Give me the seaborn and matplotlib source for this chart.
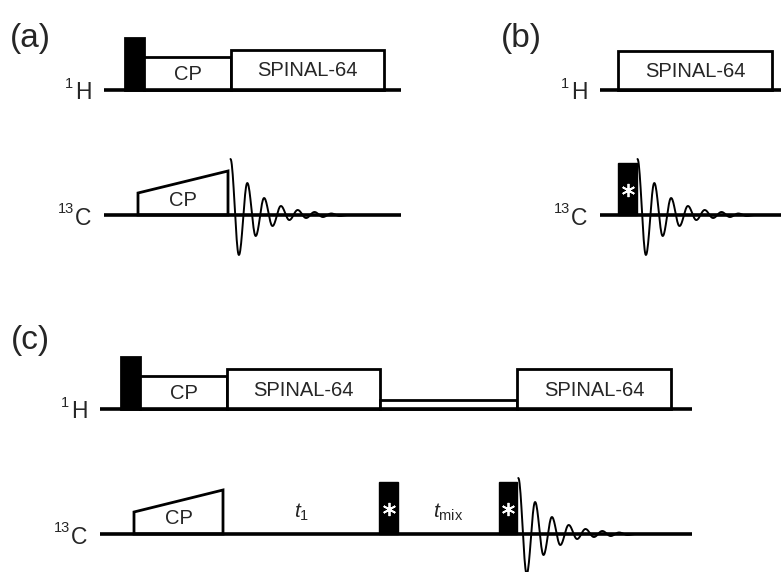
import numpy as np
import matplotlib
matplotlib.use("Agg")
import matplotlib.pyplot as plt
from matplotlib.patches import Rectangle, Polygon
import seaborn as sns

sns.set_theme(style="white")
plt.rcParams['font.family'] = ['Liberation Sans', 'DejaVu Sans']
plt.rcParams['mathtext.fontset'] = 'custom'
plt.rcParams['mathtext.rm'] = 'Liberation Sans'
plt.rcParams['mathtext.it'] = 'Liberation Sans:italic'

# channel baselines (y) and their x extent, per panel
PANELS = ['(a)', '(b)', '(c)']
H_LINE = [89.5, 89.5, 408.7]
C_LINE = [215, 215, 534]
LINE_X0 = [104, 600, 100]
LINE_X1 = [401, 781, 692]

# 1H blocks: start, end, height, kind, label
A_H = [(125, 144, 52, 'pulse', ''), (144, 231, 33, 'box', 'CP'), (231, 384, 40, 'box', 'SPINAL-64')]
B_H = [(618, 772, 39, 'box', 'SPINAL-64')]
C_H = [(121, 140, 52, 'pulse', ''), (140, 227, 33, 'box', 'CP'), (227, 380, 40, 'box', 'SPINAL-64'),
       (380, 517, 9, 'box', ''), (517, 671, 40, 'box', 'SPINAL-64')]

# 13C: CP ramps (start, end, left height, right height) and star pulses (start, end, height)
A_RAMP = [(138, 228, 22, 44)]
C_RAMP = [(134, 223, 22, 44)]
B_PULSES = [(618, 637, 52)]
C_PULSES = [(379, 398, 52), (499, 517, 52)]

# FID extrema amplitudes (px above baseline), one every half period
FID_AMPS = [56, -40, 32, -21, 17, -11, 9, -5, 5, -3, 3, -2, 1.5, -1, 0]
FID_HALF = 8.4
FID_START = [230.5, 637.5, 518.3]

# delay labels in (c)
DELAYS = [r'$t_{\mathrm{1}}$', r'$t_{\mathrm{mix}}$']
DELAY_X = [302, 448]

fig = plt.figure(figsize=(7.81, 5.72), dpi=100)
ax = fig.add_axes([0, 0, 1, 1])

BOX_LW = 2.0
LINE_LW = 2.6


def draw_h(blocks, y0):
    for x0, x1, h, kind, lab in blocks:
        if kind == 'pulse':
            ax.add_patch(Rectangle((x0, y0 - h), x1 - x0, h, facecolor='black',
                                   edgecolor='black', lw=BOX_LW, zorder=2))
        else:
            ax.add_patch(Rectangle((x0, y0 - h), x1 - x0, h, facecolor='white',
                                   edgecolor='black', lw=BOX_LW, zorder=2))
        if lab:
            ax.text((x0 + x1) / 2, y0 - h / 2 + 7, lab, ha='center', va='baseline',
                    fontsize=14.5, zorder=4)


def draw_ramp(ramps, y0):
    for x0, x1, h0, h1 in ramps:
        ax.add_patch(Polygon([(x0, y0), (x0, y0 - h0), (x1, y0 - h1), (x1, y0)],
                             closed=True, facecolor='white', edgecolor='black',
                             lw=BOX_LW, zorder=2))
        ax.text((x0 + x1) / 2, y0 - 9.5, 'CP', ha='center', va='baseline',
                fontsize=14.5, zorder=4)


def draw_pulses(pulses, y0):
    for x0, x1, h in pulses:
        ax.add_patch(Rectangle((x0, y0 - h), x1 - x0, h, facecolor='black',
                               edgecolor='black', lw=1.0, zorder=2))
        ax.plot((x0 + x1) / 2, y0 - 25, marker=(6, 2, 0), ms=9.5, mew=1.3,
                color='white', zorder=5)


def draw_fid(x_start, y0):
    xs, ys = [], []
    for i in range(len(FID_AMPS) - 1):
        a, b = FID_AMPS[i], FID_AMPS[i + 1]
        t = np.linspace(0, 1, 20)
        xs.extend(x_start + (i + t) * FID_HALF)
        ys.extend(y0 - ((a + b) / 2 + (a - b) / 2 * np.cos(np.pi * t)))
    sns.lineplot(x=xs, y=ys, estimator=None, sort=False, color='black',
                 linewidth=1.4, ax=ax, zorder=6)


H_BLOCKS = [A_H, B_H, C_H]
for i, name in enumerate(PANELS):
    draw_h(H_BLOCKS[i], H_LINE[i])
    for y0 in (H_LINE[i], C_LINE[i]):
        ax.plot([LINE_X0[i], LINE_X1[i]], [y0, y0], color='black', lw=LINE_LW,
                solid_capstyle='butt', zorder=3)
    # channel labels
    lx = LINE_X0[i] - 29
    ax.text(lx, H_LINE[i] + 9.5, 'H', ha='left', va='baseline', fontsize=16.5)
    ax.text(lx - 2, H_LINE[i] - 2, '1', ha='right', va='baseline', fontsize=10.5)
    ax.text(lx, C_LINE[i] + 10, 'C', ha='left', va='baseline', fontsize=16.5)
    ax.text(lx - 1, C_LINE[i] - 2, '13', ha='right', va='baseline', fontsize=10.5)
    draw_fid(FID_START[i], C_LINE[i])

draw_ramp(A_RAMP, C_LINE[0])
draw_ramp(C_RAMP, C_LINE[2])
draw_pulses(B_PULSES, C_LINE[1])
draw_pulses(C_PULSES, C_LINE[2])

for lab, x in zip(DELAYS, DELAY_X):
    ax.text(x, C_LINE[2] - 16, lab, ha='center', va='baseline', fontsize=15)

# panel letters
ax.text(10, 47, PANELS[0], ha='left', va='baseline', fontsize=24)
ax.text(501, 47, PANELS[1], ha='left', va='baseline', fontsize=24)
ax.text(11, 349, PANELS[2], ha='left', va='baseline', fontsize=24)

ax.set_xlim(0, 781)
ax.set_ylim(572, 0)
ax.axis('off')

fig.savefig('out.png', dpi=100)
